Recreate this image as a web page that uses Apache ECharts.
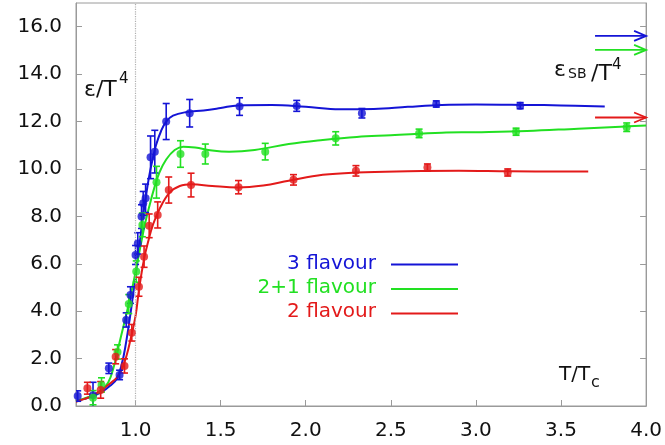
<!DOCTYPE html>
<html>
<head>
<meta charset="utf-8">
<script src="https://cdn.jsdelivr.net/npm/echarts@6/dist/echarts.min.js"></script>
<style>html,body{margin:0;padding:0;background:#fff}#c{width:665px;height:445px}</style>
</head>
<body>
<div id="c"></div>
<script>
// ---- data ----
const xTickValues = [1.0, 1.5, 2.0, 2.5, 3.0, 3.5, 4.0];
const yTickValues = [0, 2, 4, 6, 8, 10, 12, 14, 16];
const tcPosition = 1.0;

// [T/Tc, eps/T^4, error]
const blueData = [
  [0.66,0.42,0.22],[0.75,0.45,0.55],[0.843,1.59,0.22],[0.906,1.31,0.2],[0.945,3.63,0.3],
  [0.97,4.68,0.35],[1.0,6.37,0.4],[1.013,6.86,0.45],[1.035,7.99,0.5],[1.045,8.55,0.5],
  [1.059,8.76,0.6],[1.088,10.49,0.9],[1.113,10.73,0.9],[1.18,12.0,0.76],[1.318,12.35,0.58],
  [1.611,12.63,0.37],[1.947,12.66,0.23],[2.33,12.35,0.2],[2.767,12.74,0.13],[3.26,12.67,0.13]
];
const greenData = [
  [0.75,0.35,0.3],[0.80,0.89,0.3],[0.894,2.28,0.3],[0.96,4.3,0.4],[1.004,5.67,0.45],
  [1.04,7.64,0.5],[1.123,9.44,0.67],[1.264,10.63,0.56],[1.41,10.63,0.42],[1.762,10.73,0.35],
  [2.176,11.29,0.28],[2.666,11.5,0.18],[3.236,11.57,0.15],[3.886,11.76,0.18]
];
const redData = [
  [0.717,0.75,0.25],[0.795,0.68,0.35],[0.883,2.08,0.3],[0.935,1.69,0.3],[0.978,3.09,0.35],
  [1.02,5.03,0.4],[1.05,6.3,0.45],[1.08,7.6,0.5],[1.13,8.06,0.55],[1.195,9.11,0.55],
  [1.326,9.32,0.5],[1.605,9.23,0.28],[1.928,9.54,0.22],[2.295,9.92,0.22],[2.715,10.06,0.15],
  [3.187,9.85,0.15]
];

const blueCurve = [
  [0.65,0.2],[0.7,0.3],[0.75,0.42],[0.8,0.58],[0.85,0.85],[0.89,1.15],[0.92,1.8],[0.94,2.5],
  [0.96,3.4],[0.98,4.4],[1.0,5.5],[1.02,6.6],[1.04,7.8],[1.06,8.8],[1.08,9.7],[1.1,10.4],
  [1.12,11.0],[1.15,11.6],[1.18,12.0],[1.22,12.25],[1.3,12.4],[1.4,12.47],[1.5,12.57],
  [1.6,12.68],[1.8,12.7],[2.0,12.62],[2.2,12.52],[2.4,12.53],[2.6,12.62],[2.8,12.7],
  [3.0,12.72],[3.3,12.7],[3.5,12.68],[3.757,12.63]
];
const greenCurve = [
  [0.65,0.2],[0.7,0.32],[0.75,0.45],[0.8,0.65],[0.84,1.0],[0.87,1.6],[0.9,2.5],[0.93,3.4],
  [0.96,4.3],[0.99,5.3],[1.02,6.4],[1.05,7.5],[1.08,8.4],[1.11,9.2],[1.14,9.85],[1.18,10.4],
  [1.23,10.8],[1.28,10.94],[1.35,10.9],[1.45,10.78],[1.55,10.73],[1.7,10.8],[1.9,11.05],
  [2.1,11.22],[2.3,11.35],[2.5,11.42],[2.8,11.53],[3.0,11.55],[3.3,11.6],[3.6,11.7],
  [3.85,11.78],[4.0,11.83]
];
const redCurve = [
  [0.65,0.18],[0.7,0.3],[0.75,0.45],[0.8,0.68],[0.85,0.95],[0.89,1.2],[0.92,1.55],[0.95,2.2],
  [0.97,2.8],[1.0,3.8],[1.02,4.9],[1.05,6.2],[1.08,7.1],[1.1,7.6],[1.14,8.3],[1.2,9.0],
  [1.26,9.28],[1.33,9.35],[1.45,9.28],[1.6,9.22],[1.75,9.3],[1.9,9.5],[2.1,9.75],[2.3,9.85],
  [2.6,9.9],[2.9,9.92],[3.2,9.9],[3.66,9.89]
];

// Stefan-Boltzmann limits: [start T/Tc, end T/Tc, value]
const blueSB = [[3.7, 4.0, 15.61]];
const greenSB = [[3.7, 4.0, 15.02]];
const redSB = [[3.7, 4.0, 12.17]];

const legendNames = ['3 flavour', '2+1 flavour', '2 flavour'];

// ---- styles ----
const BLUE = '#1414d6', GREEN = '#22e022', RED = '#e31a1a';
const FONT = 'DejaVu Sans';
const AXC = '#9a9a9a';

function errorBars(data, color) {
  return {
    type: 'custom', data: data, clip: true, z: 3,
    encode: {x: 0, y: 1},
    renderItem: function (params, api) {
      const x = api.value(0), y = api.value(1), e = api.value(2);
      const t = api.coord([x, y + e]), b = api.coord([x, y - e]);
      const w = 3.5, st = {stroke: color, lineWidth: 1.6};
      return {type: 'group', children: [
        {type: 'line', shape: {x1: t[0], y1: t[1], x2: b[0], y2: b[1]}, style: st},
        {type: 'line', shape: {x1: t[0]-w, y1: t[1], x2: t[0]+w, y2: t[1]}, style: st},
        {type: 'line', shape: {x1: b[0]-w, y1: b[1], x2: b[0]+w, y2: b[1]}, style: st}
      ]};
    }
  };
}
function arrow(data, color) {
  return {
    type: 'custom', data: data, clip: false, z: 4,
    encode: {x: [0, 1], y: 2},
    renderItem: function (params, api) {
      const p0 = api.coord([api.value(0), api.value(2)]);
      const p1 = api.coord([api.value(1), api.value(2)]);
      const st = {stroke: color, lineWidth: 1.8, fill: null};
      return {type: 'group', children: [
        {type: 'line', shape: {x1: p0[0], y1: p0[1], x2: p1[0], y2: p1[1]}, style: st},
        {type: 'polyline', shape: {points: [[p1[0]-12, p1[1]-5], [p1[0], p1[1]], [p1[0]-12, p1[1]+5]]}, style: st}
      ]};
    }
  };
}
function curve(data, color, extra) {
  return Object.assign({
    type: 'line', data: data, showSymbol: false, smooth: 0.4,
    lineStyle: {color: color, width: 2}, z: 2, silent: true
  }, extra || {});
}
function points(data, color) {
  return {
    type: 'scatter', data: data.map(d => [d[0], d[1]]), symbolSize: 8,
    itemStyle: {color: color}, z: 5
  };
}

const chart = echarts.init(document.getElementById('c'));
const textBase = {fontFamily: FONT, fill: '#111'};

chart.setOption({
  animation: false,
  backgroundColor: '#fff',
  grid: {left: 76, right: 18, top: 3, bottom: 39, show: true, borderColor: AXC, borderWidth: 1},
  xAxis: {
    type: 'value', min: 0.65, max: 4.0,
    axisLine: {show: true, lineStyle: {color: AXC}},
    axisTick: {inside: true, length: 6, lineStyle: {color: AXC}, customValues: xTickValues},
    axisLabel: {customValues: xTickValues, formatter: v => v.toFixed(1), fontFamily: FONT, fontSize: 20, color: '#111', margin: 15},
    splitLine: {show: false}
  },
  yAxis: [{
    type: 'value', min: 0, max: 17,
    axisLine: {show: true, lineStyle: {color: AXC}},
    axisTick: {show: true, inside: true, length: 6, lineStyle: {color: AXC}, customValues: yTickValues},
    axisLabel: {customValues: yTickValues, formatter: v => v.toFixed(1), fontFamily: FONT, fontSize: 20, color: '#111', margin: 14},
    splitLine: {show: false}
  }, {
    type: 'value', min: 0, max: 17, position: 'right',
    axisLine: {show: true, lineStyle: {color: AXC}},
    axisTick: {show: true, inside: true, length: 6, lineStyle: {color: AXC}, customValues: yTickValues},
    axisLabel: {show: false},
    splitLine: {show: false}
  }],
  series: [
    curve(blueCurve, BLUE, {markLine: {
      silent: true, symbol: 'none', label: {show: false},
      lineStyle: {type: 'dotted', color: '#b0b0b0', width: 1.2},
      data: [{xAxis: tcPosition}]
    }}),
    curve(greenCurve, GREEN),
    curve(redCurve, RED),
    errorBars(blueData, BLUE), errorBars(greenData, GREEN), errorBars(redData, RED),
    points(blueData, BLUE), points(greenData, GREEN), points(redData, RED),
    arrow(blueSB, BLUE), arrow(greenSB, GREEN), arrow(redSB, RED)
  ],
  graphic: [
    {type: 'text', left: 84, top: 79, style: Object.assign({text: 'ε/T', fontSize: 22}, textBase)},
    {type: 'text', left: 119, top: 72, style: Object.assign({text: '4', fontSize: 15}, textBase)},
    {type: 'text', left: 554, top: 59, style: Object.assign({text: 'ε', fontSize: 22}, textBase)},
    {type: 'text', left: 568, top: 67, style: Object.assign({text: 'SB', fontSize: 14}, textBase)},
    {type: 'text', left: 591, top: 63, style: Object.assign({text: '/T', fontSize: 22}, textBase)},
    {type: 'text', left: 612, top: 58, style: Object.assign({text: '4', fontSize: 15}, textBase)},
    {type: 'text', left: 559, top: 365, style: Object.assign({text: 'T/T', fontSize: 20}, textBase)},
    {type: 'text', left: 591, top: 375, style: Object.assign({text: 'c', fontSize: 16}, textBase)},
    {type: 'text', right: 665 - 376, top: 254, style: {text: legendNames[0], fontSize: 20, fontFamily: FONT, fill: BLUE}},
    {type: 'text', right: 665 - 376, top: 278, style: {text: legendNames[1], fontSize: 20, fontFamily: FONT, fill: GREEN}},
    {type: 'text', right: 665 - 376, top: 302, style: {text: legendNames[2], fontSize: 20, fontFamily: FONT, fill: RED}},
    {type: 'line', shape: {x1: 391, y1: 264.5, x2: 458, y2: 264.5}, style: {stroke: BLUE, lineWidth: 1.8}},
    {type: 'line', shape: {x1: 391, y1: 289, x2: 458, y2: 289}, style: {stroke: GREEN, lineWidth: 1.8}},
    {type: 'line', shape: {x1: 391, y1: 313.5, x2: 458, y2: 313.5}, style: {stroke: RED, lineWidth: 1.8}}
  ]
});
</script>
</body>
</html>
